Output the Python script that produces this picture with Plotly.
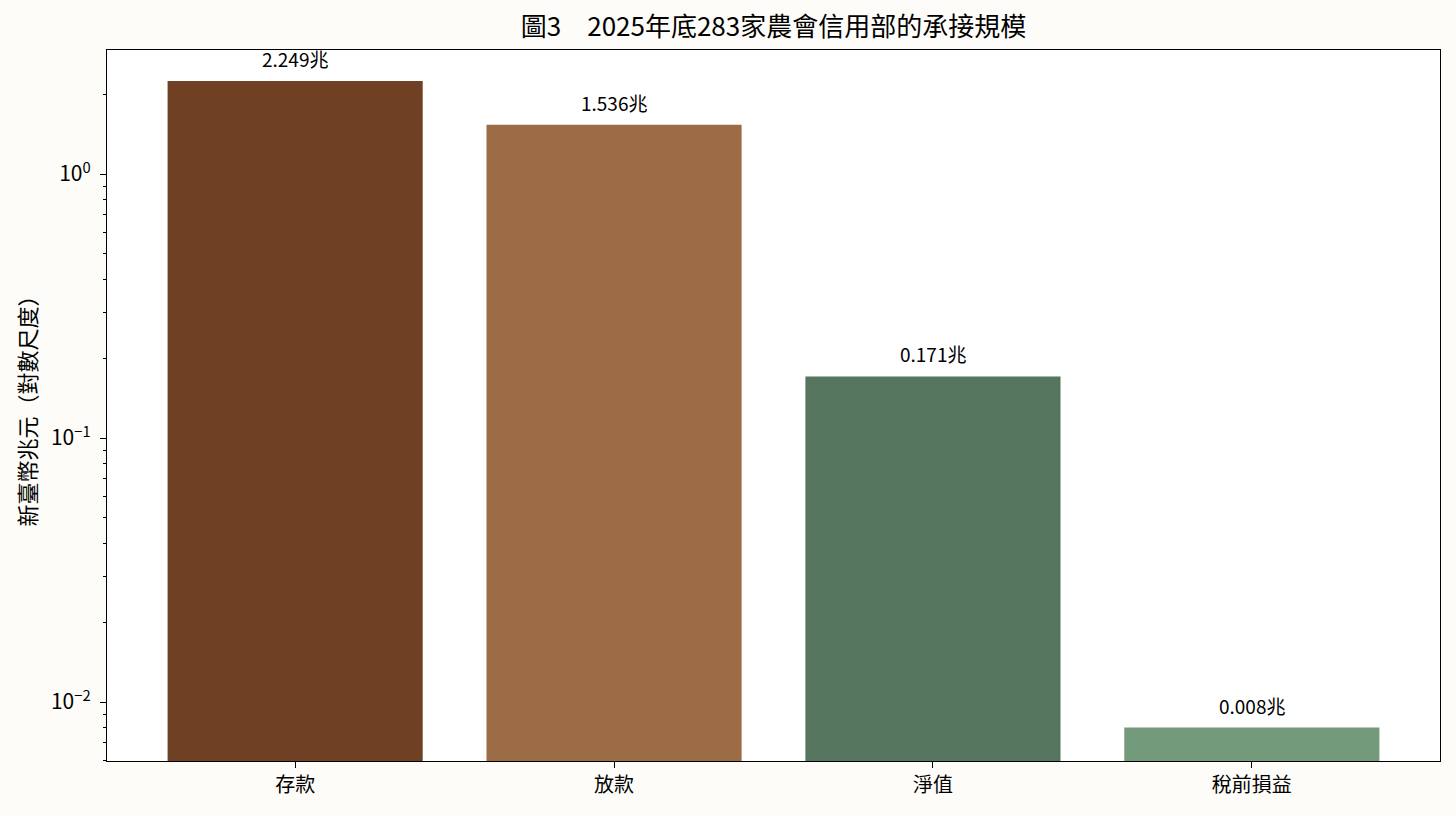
import math
import plotly.graph_objects as go

# 2025年底283家農會信用部的承接規模（單位：兆元）
categories = ['存款', '放款', '淨值', '稅前損益']
values = [2.249, 1.536, 0.171, 0.008]
bar_colors = ['#6f4024', '#9b6c45', '#56755e', '#739a7a']
value_labels = [f'{v:.3f}兆' for v in values]

FONT = 'Noto Sans CJK TC'
BG = '#fdfcf8'

fig = go.Figure()
fig.add_trace(go.Bar(
    x=list(range(len(categories))),
    y=values,
    marker=dict(color=bar_colors, line=dict(width=0)),
    width=0.8,
    hoverinfo='skip',
))

# value labels above each bar (log axis -> annotation y in log10 units)
for i, (v, lab) in enumerate(zip(values, value_labels)):
    fig.add_annotation(
        x=i, y=math.log10(v), yref='y', xref='x',
        text=lab, showarrow=False,
        yanchor='bottom', yshift=7,
        font=dict(family=FONT, size=19, color='#000000'),
    )

minor_ticks = [k * 10.0 ** e for e in (-3, -2, -1, 0) for k in range(2, 10)]

fig.update_layout(
    width=1456, height=816,
    paper_bgcolor=BG,
    plot_bgcolor='#ffffff',
    margin=dict(l=107, r=16, t=50, b=55),
    showlegend=False,
    font=dict(family=FONT, color='#000000'),
    title=dict(
        text='圖3\u30002025年底283家農會信用部的承接規模',
        x=(107 + 1440) / 2 / 1456, xanchor='center',
        y=1 - 27 / 816, yanchor='middle',
        font=dict(family=FONT, size=26, color='#000000'),
    ),
    xaxis=dict(
        range=[-0.59, 3.59],
        tickmode='array',
        tickvals=list(range(len(categories))),
        ticktext=categories,
        ticks='outside', ticklen=6, tickwidth=1.4, tickcolor='#000000',
        showline=True, linecolor='#000000', linewidth=1.4, mirror=True,
        showgrid=False, zeroline=False,
        tickfont=dict(family=FONT, size=20),
    ),
    yaxis=dict(
        type='log',
        range=[-2.2235, 0.4697],
        tickmode='array',
        tickvals=[0.01, 0.1, 1],
        ticktext=['10<sup>−2</sup>', '10<sup>−1</sup>', '10<sup>0</sup>'],
        ticks='outside', ticklen=6, tickwidth=1.4, tickcolor='#000000',
        ticklabelstandoff=5,
        showline=True, linecolor='#000000', linewidth=1.4, mirror=True,
        showgrid=False, zeroline=False,
        tickfont=dict(family=FONT, size=21),
        minor=dict(
            tickmode='array', tickvals=minor_ticks,
            ticks='outside', ticklen=3, tickwidth=1, tickcolor='#000000',
            showgrid=False,
        ),
        title=dict(text='新臺幣兆元（對數尺度）', standoff=8,
                   font=dict(family=FONT, size=22)),
    ),
)

fig.write_html(
    'out.html',
    config={'displayModeBar': False},
    post_script="document.body.style.margin='0';"
                "document.body.style.background='" + BG + "';",
)
